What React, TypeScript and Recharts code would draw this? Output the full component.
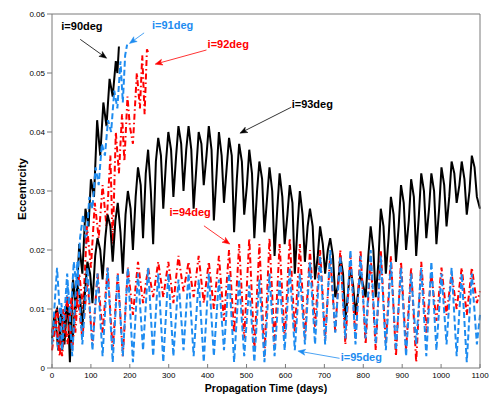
import React from 'react';
import { LineChart, Line, XAxis, YAxis, ReferenceLine, ReferenceDot } from 'recharts';

// sampling times (days) of the long runs, i = 94, 95 deg
const days = [
  0, 13, 26, 39, 52, 65, 78, 91, 104, 117, 130, 143, 156, 169, 182, 195, 208, 221, 234, 247,
  260, 273, 286, 299, 312, 325, 338, 351, 364, 377, 390, 403, 416, 429, 442, 455, 468, 481, 494, 507,
  520, 533, 546, 559, 572, 585, 598, 611, 624, 637, 650, 663, 676, 689, 702, 715, 728, 741, 754, 767,
  780, 793, 806, 819, 832, 845, 858, 871, 884, 897, 910, 923, 936, 949, 962, 975, 988, 1001, 1014, 1027,
  1040, 1053, 1066, 1079, 1092, 1100,
];

// i = 93 deg is read at a finer step
const days93 = [
  0, 7, 13, 20, 26, 33, 39, 46, 52, 59, 65, 72, 78, 85, 91, 98, 104, 111, 117, 124,
  130, 137, 143, 150, 156, 163, 169, 176, 182, 189, 195, 202, 208, 215, 221, 228, 234, 241, 247, 254,
  260, 267, 273, 280, 286, 293, 299, 306, 312, 319, 325, 332, 338, 345, 351, 358, 364, 371, 377, 384,
  390, 397, 403, 410, 416, 423, 429, 436, 442, 449, 455, 462, 468, 475, 481, 488, 494, 501, 507, 514,
  520, 527, 533, 540, 546, 553, 559, 566, 572, 579, 585, 592, 598, 605, 611, 618, 624, 631, 637, 644,
  650, 657, 663, 670, 676, 683, 689, 696, 702, 709, 715, 722, 728, 735, 741, 748, 754, 761, 767, 774,
  780, 787, 793, 800, 806, 813, 819, 826, 832, 839, 845, 852, 858, 865, 871, 878, 884, 891, 897, 904,
  910, 917, 923, 930, 936, 943, 949, 956, 962, 969, 975, 982, 988, 995, 1001, 1008, 1014, 1021, 1027, 1034,
  1040, 1047, 1053, 1060, 1066, 1073, 1079, 1086, 1092, 1100,
];

const ecc93 = [
  0.006, 0.009, 0.010, 0.007, 0.003, 0.008, 0.011, 0.008, 0.004, 0.010,
  0.014, 0.012, 0.007, 0.013, 0.018, 0.016, 0.011, 0.019, 0.022, 0.020,
  0.015, 0.022, 0.026, 0.024, 0.018, 0.025, 0.028, 0.023, 0.016, 0.026,
  0.030, 0.027, 0.020, 0.029, 0.034, 0.031, 0.022, 0.033, 0.037, 0.030,
  0.021, 0.035, 0.039, 0.036, 0.027, 0.035, 0.040, 0.037, 0.029, 0.036,
  0.041, 0.038, 0.030, 0.037, 0.041, 0.037, 0.027, 0.034, 0.040, 0.038,
  0.031, 0.036, 0.041, 0.037, 0.025, 0.033, 0.040, 0.036, 0.028, 0.034,
  0.039, 0.036, 0.023, 0.032, 0.038, 0.035, 0.026, 0.031, 0.037, 0.033,
  0.022, 0.030, 0.035, 0.032, 0.023, 0.029, 0.034, 0.030, 0.019, 0.027,
  0.033, 0.029, 0.021, 0.026, 0.031, 0.028, 0.016, 0.024, 0.030, 0.026,
  0.018, 0.024, 0.027, 0.024, 0.015, 0.019, 0.024, 0.021, 0.016, 0.020,
  0.022, 0.019, 0.012, 0.014, 0.019, 0.016, 0.008, 0.013, 0.017, 0.014,
  0.009, 0.013, 0.016, 0.014, 0.012, 0.019, 0.024, 0.020, 0.012, 0.018,
  0.027, 0.024, 0.016, 0.022, 0.029, 0.026, 0.018, 0.024, 0.031, 0.028,
  0.020, 0.025, 0.032, 0.029, 0.019, 0.026, 0.033, 0.030, 0.022, 0.027,
  0.033, 0.030, 0.021, 0.027, 0.034, 0.031, 0.024, 0.029, 0.035, 0.033,
  0.028, 0.031, 0.035, 0.032, 0.026, 0.030, 0.036, 0.034, 0.029, 0.027,
];

const ecc94 = [
  0.006, 0.010, 0.002, 0.012, 0.003, 0.013, 0.005, 0.015, 0.004, 0.016,
  0.006, 0.017, 0.003, 0.016, 0.002, 0.017, 0.009, 0.018, 0.011, 0.017,
  0.012, 0.018, 0.012, 0.018, 0.011, 0.019, 0.013, 0.018, 0.012, 0.019,
  0.011, 0.018, 0.010, 0.019, 0.008, 0.020, 0.006, 0.021, 0.005, 0.022,
  0.003, 0.021, 0.002, 0.022, 0.004, 0.021, 0.005, 0.022, 0.006, 0.021,
  0.005, 0.020, 0.007, 0.020, 0.005, 0.019, 0.006, 0.020, 0.004, 0.019,
  0.005, 0.020, 0.004, 0.019, 0.003, 0.020, 0.004, 0.019, 0.002, 0.018,
  0.003, 0.017, 0.001, 0.018, 0.006, 0.016, 0.008, 0.017, 0.009, 0.016,
  0.010, 0.017, 0.009, 0.017, 0.011, 0.013,
];

const ecc95 = [
  0.004, 0.017, 0.003, 0.016, 0.002, 0.018, 0.004, 0.017, 0.003, 0.016,
  0.002, 0.017, 0.001, 0.016, 0.002, 0.017, 0.001, 0.016, 0.003, 0.017,
  0.002, 0.016, 0.001, 0.016, 0.002, 0.015, 0.003, 0.016, 0.002, 0.015,
  0.001, 0.016, 0.002, 0.015, 0.003, 0.016, 0.001, 0.015, 0.002, 0.014,
  0.001, 0.015, 0.001, 0.016, 0.002, 0.015, 0.003, 0.017, 0.003, 0.016,
  0.004, 0.018, 0.004, 0.019, 0.004, 0.020, 0.006, 0.019, 0.005, 0.020,
  0.004, 0.019, 0.005, 0.020, 0.004, 0.019, 0.003, 0.018, 0.003, 0.017,
  0.002, 0.016, 0.004, 0.017, 0.002, 0.018, 0.003, 0.016, 0.004, 0.017,
  0.002, 0.016, 0.001, 0.016, 0.004, 0.009,
];

// short runs (escape before the end)
const days90 = [0, 8, 16, 24, 32, 40, 46, 54, 62, 70, 78, 86, 94, 100, 108, 116, 124, 132, 140, 148, 156, 164, 168, 172];
const ecc90 = [
  0.005, 0.009, 0.003, 0.010, 0.004, 0.012, 0.001, 0.015, 0.010, 0.021, 0.016, 0.027,
  0.024, 0.032, 0.029, 0.042, 0.036, 0.045, 0.041, 0.049, 0.046, 0.052, 0.050, 0.0545,
];

const days91 = [0, 8, 16, 24, 32, 40, 48, 56, 64, 72, 80, 88, 96, 104, 112, 120, 128, 136, 144, 152, 160, 168, 176, 182, 188, 193];
const ecc91 = [
  0.004, 0.008, 0.003, 0.011, 0.006, 0.014, 0.009, 0.018, 0.013, 0.022, 0.026, 0.021, 0.029,
  0.027, 0.034, 0.031, 0.038, 0.036, 0.042, 0.040, 0.047, 0.044, 0.052, 0.045, 0.053, 0.0548,
];

const days92 = [0, 10, 20, 30, 40, 50, 60, 70, 80, 90, 100, 110, 120, 130, 140, 150, 156, 164, 172, 180, 186, 194, 200, 208, 218, 226, 232, 238, 244, 247];
const ecc92 = [
  0.003, 0.008, 0.002, 0.010, 0.004, 0.012, 0.006, 0.016, 0.010, 0.024,
  0.017, 0.028, 0.022, 0.031, 0.024, 0.036, 0.021, 0.040, 0.033, 0.043,
  0.035, 0.046, 0.041, 0.038, 0.050, 0.044, 0.053, 0.043, 0.054, 0.0535,
];

const xTicks = [0, 100, 200, 300, 400, 500, 600, 700, 800, 900, 1000, 1100];
const yTicks = [0, 0.01, 0.02, 0.03, 0.04, 0.05, 0.06];

// text notes, in data units
const noteText = ['i=90deg', 'i=91deg', 'i=92deg', 'i=93deg', 'i=94deg', 'i=95deg'];
const noteDay = [77, 310, 453, 669, 355, 795];
const noteEcc = [0.058, 0.0581, 0.055, 0.0448, 0.0264, 0.0019];
const arrowFromDay = [72.6, 236.7, 397, 615, 390.5, 739];
const arrowFromEcc = [0.0557, 0.0568, 0.0539, 0.0442, 0.0241, 0.00164];
const arrowToDay = [140.5, 199, 265, 483, 457, 632];
const arrowToEcc = [0.0525, 0.055, 0.0515, 0.0398, 0.021, 0.00288];

const BLACK = '#000000';
const BLUE = '#1e8cf0';
const RED = '#ff0000';
const noteColor = [BLACK, BLUE, RED, BLACK, RED, BLUE];
const AXIS = '#7a7a7a';

const pts = (t: number[], e: number[]) => t.map((d, i) => ({ t: d, e: e[i] }));

const arrow = (color: string) => (p: any) => {
  const { x1, y1, x2, y2 } = p;
  const a = Math.atan2(y2 - y1, x2 - x1);
  const L = 8;
  const s = 0.38;
  const lx = x2 - L * Math.cos(a - s);
  const ly = y2 - L * Math.sin(a - s);
  const rx = x2 - L * Math.cos(a + s);
  const ry = y2 - L * Math.sin(a + s);
  const nx = x2 - L * 0.7 * Math.cos(a);
  const ny = y2 - L * 0.7 * Math.sin(a);
  return (
    <g>
      <line x1={x1} y1={y1} x2={nx} y2={ny} stroke={color} strokeWidth={0.8} />
      <polygon points={`${x2},${y2} ${lx},${ly} ${nx},${ny} ${rx},${ry}`} fill={color} stroke={color} strokeWidth={0.5} />
    </g>
  );
};

const note = (text: string, color: string) => (p: any) => (
  <text
    x={p.cx}
    y={p.cy}
    textAnchor="middle"
    dominantBaseline="central"
    fill={color}
    fontFamily="Arial, Helvetica, sans-serif"
    fontWeight="bold"
    fontSize={11}
  >
    {text}
  </text>
);

const yTitle = () => (
  <text
    x={22}
    y={189}
    transform="rotate(-90 22 189)"
    textAnchor="middle"
    dominantBaseline="central"
    fill="#000"
    fontFamily="Arial, Helvetica, sans-serif"
    fontWeight="bold"
    fontSize={11.5}
  >
    Eccentrcity
  </text>
);

const tickStyle = { fontSize: 8, fill: '#000', fontFamily: 'Arial, Helvetica, sans-serif' };

export default function App() {
  return (
    <div style={{ position: 'absolute', left: 0, top: 0, background: '#fff' }}>
      <LineChart width={491} height={395} margin={{ top: 0, right: 0, bottom: 0, left: 0 }}>
        <XAxis
          type="number"
          dataKey="t"
          domain={[0, 1100]}
          ticks={xTicks}
          height={27}
          tickSize={-4}
          tickMargin={8}
          stroke={AXIS}
          tick={tickStyle}
          label={{
            value: 'Propagation Time (days)',
            position: 'insideBottom',
            offset: 3,
            style: { fontSize: 10.5, fontWeight: 'bold', fill: '#000', fontFamily: 'Arial, Helvetica, sans-serif' },
          }}
        />
        <XAxis xAxisId="top" orientation="top" type="number" domain={[0, 1100]} ticks={xTicks} height={14} tickSize={-4} stroke={AXIS} tick={false} />
        <YAxis
          type="number"
          domain={[0, 0.06]}
          ticks={yTicks}
          width={52}
          tickSize={5}
          tickMargin={2}
          stroke={AXIS}
          tick={tickStyle}
          tickFormatter={(v: number) => (v === 0 ? '0' : v.toFixed(2))}
          label={yTitle}
        />
        <YAxis yAxisId="right" orientation="right" type="number" domain={[0, 0.06]} ticks={yTicks} width={11} tickSize={-4} stroke={AXIS} tick={false} />

        <Line data={pts(days90, ecc90)} dataKey="e" stroke={BLACK} strokeWidth={2} dot={false} activeDot={false} isAnimationActive={false} />
        <Line data={pts(days91, ecc91)} dataKey="e" stroke={BLUE} strokeWidth={2} strokeDasharray="6 3" dot={false} activeDot={false} isAnimationActive={false} />
        <Line data={pts(days92, ecc92)} dataKey="e" stroke={RED} strokeWidth={2} strokeDasharray="6 3 1.5 3" dot={false} activeDot={false} isAnimationActive={false} />
        <Line data={pts(days93, ecc93)} dataKey="e" stroke={BLACK} strokeWidth={2} dot={false} activeDot={false} isAnimationActive={false} />
        <Line data={pts(days, ecc94)} dataKey="e" stroke={RED} strokeWidth={2} strokeDasharray="6 3 1.5 3" dot={false} activeDot={false} isAnimationActive={false} />
        <Line data={pts(days, ecc95)} dataKey="e" stroke={BLUE} strokeWidth={2} strokeDasharray="6 3" dot={false} activeDot={false} isAnimationActive={false} />

        {noteText.map((txt, i) => (
          <ReferenceLine
            key={'a' + i}
            segment={[
              { x: arrowFromDay[i], y: arrowFromEcc[i] },
              { x: arrowToDay[i], y: arrowToEcc[i] },
            ]}
            ifOverflow="visible"
            shape={arrow(noteColor[i])}
          />
        ))}
        {noteText.map((txt, i) => (
          <ReferenceDot key={'n' + i} x={noteDay[i]} y={noteEcc[i]} r={0} ifOverflow="visible" shape={note(txt, noteColor[i])} />
        ))}
      </LineChart>
    </div>
  );
}
